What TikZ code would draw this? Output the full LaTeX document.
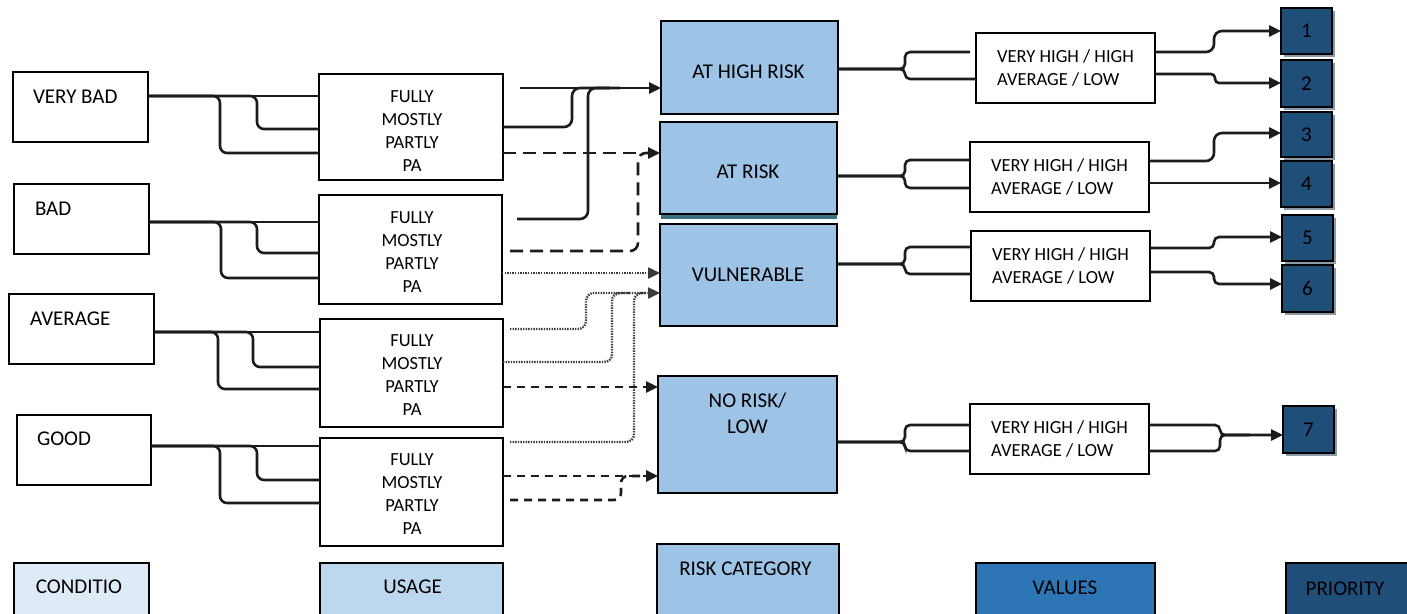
\documentclass[tikz,border=0pt]{standalone}
\usepackage{fontspec}
\setmainfont{Carlito}
\usetikzlibrary{arrows.meta,shadows}
\definecolor{condfill}{HTML}{DEEBF7}
\definecolor{usefill}{HTML}{BDD7EE}
\definecolor{riskfill}{HTML}{9DC3E6}
\definecolor{valfill}{HTML}{2E75B6}
\definecolor{prifill}{HTML}{1F4E79}
\definecolor{lnk}{HTML}{1C1C1C}
\definecolor{dotc}{HTML}{3A3A3A}
\definecolor{tealshade}{HTML}{3E6F7D}
\definecolor{pshade}{HTML}{6F8192}
\begin{document}
\begin{tikzpicture}[x=1pt,y=-1pt,
  basebox/.style={draw=black, line width=1.4pt, inner sep=0pt, outer sep=0pt},
  cbox/.style={basebox, fill=white, minimum height=70pt},
  ubox/.style={basebox, fill=white, minimum width=183pt},
  rbox/.style={basebox, fill=riskfill, minimum width=177pt},
  valbox/.style={basebox, fill=white, minimum width=179pt, minimum height=70pt, align=left, font=\fontsize{18.5}{23.3}\selectfont},
  pbox/.style={basebox, fill=prifill, minimum width=51pt, font=\fontsize{21}{25}\selectfont,
    drop shadow={shadow xshift=2.5pt, shadow yshift=-2.5pt, fill=pshade, opacity=0.8}},
  legbox/.style={basebox, minimum height=53pt},
  bigtxt/.style={font=\fontsize{21}{25}\selectfont, inner sep=0pt, outer sep=0pt},
  usetxt/.style={font=\fontsize{18.5}{23}\selectfont, inner sep=0pt, outer sep=0pt, align=center},
  linkline/.style={line width=2.6pt, draw=lnk, rounded corners=7pt},
  arrowend/.style={-{Triangle[length=12pt,width=11pt]}},
  longdsh/.style={dash pattern=on 13pt off 7pt},
  shortdsh/.style={dash pattern=on 8pt off 6pt},
  dotline/.style={draw=dotc, line width=2.4pt, dash pattern=on 1.4pt off 1.2pt},
]
\useasboundingbox (0,0) rectangle (1407,613);
\fill[white] (0,0) rectangle (1407,613);

% condition boxes
\node[cbox, minimum width=135pt] (C1) at (80.5,107) {};
\node[cbox, minimum width=135pt] (C2) at (81.5,219) {};
\node[cbox, minimum width=145pt] (C3) at (81.5,329) {};
\node[cbox, minimum width=134pt] (C4) at (84,450) {};
\node[bigtxt, anchor=base west] (C1t) at (33,103) {VERY BAD};
\node[bigtxt, anchor=base west] (C2t) at (35,215.5) {BAD};
\node[bigtxt, anchor=base west] (C3t) at (30,325) {AVERAGE};
\node[bigtxt, anchor=base west] (C4t) at (37,445.5) {GOOD};

% usage boxes
\node[ubox, minimum width=184pt, minimum height=106pt] (U1) at (411,127) {};
\node[ubox, minimum height=109pt] (U2) at (410.5,249.5) {};
\node[ubox, minimum height=108pt] (U3) at (411.5,373) {};
\node[ubox, minimum height=108pt] (U4) at (411.5,492) {};
\node[usetxt] (U1t) at (412,131.5) {FULLY\\MOSTLY\\PARTLY\\PA};
\node[usetxt] (U2t) at (412,252) {FULLY\\MOSTLY\\PARTLY\\PA};
\node[usetxt] (U3t) at (412,375) {FULLY\\MOSTLY\\PARTLY\\PA};
\node[usetxt] (U4t) at (412,494) {FULLY\\MOSTLY\\PARTLY\\PA};

% risk boxes
\fill[tealshade] (661,212) rectangle (837,219);
\node[rbox, minimum height=93pt] (R1) at (749.5,67.5) {};
\node[rbox, minimum height=92pt] (R2) at (748.5,168) {};
\node[rbox, minimum height=102pt] (R3) at (748.5,275) {};
\node[rbox, minimum width=179pt, minimum height=117pt] (R4) at (747.5,434.5) {};
\node[bigtxt] (R1t) at (748.5,71.7) {AT HIGH RISK};
\node[bigtxt] (R2t) at (748,171.7) {AT RISK};
\node[bigtxt] (R3t) at (748,275) {VULNERABLE};
\node[bigtxt, align=center, font=\fontsize{21}{26.7}\selectfont] (R4t) at (747.5,413.3) {NO RISK/\\LOW};

% value boxes
\node[valbox] (V1) at (1065.5,68) {VERY HIGH / HIGH\\AVERAGE / LOW};
\node[valbox] (V2) at (1059.5,177) {VERY HIGH / HIGH\\AVERAGE / LOW};
\node[valbox] (V3) at (1060.5,266) {VERY HIGH / HIGH\\AVERAGE / LOW};
\node[valbox] (V4) at (1059.5,439) {VERY HIGH / HIGH\\AVERAGE / LOW};

% priority boxes
\node[pbox, minimum height=46pt] (P1) at (1306.5,31) {1};
\node[pbox, minimum height=47pt] (P2) at (1306.5,83.5) {2};
\node[pbox, minimum height=45pt] (P3) at (1306.5,134.5) {3};
\node[pbox, minimum height=46pt] (P4) at (1306.5,184) {4};
\node[pbox, minimum height=46pt] (P5) at (1307.5,238) {5};
\node[pbox, minimum height=47pt] (P6) at (1307.5,288.5) {6};
\node[pbox, minimum height=47pt] (P7) at (1308.5,429.5) {7};

% legend
\node[legbox, fill=condfill, minimum width=135pt] (L1) at (81.5,589.5) {};
\node[bigtxt] (L1t) at (79,586.5) {CONDITIO};
\node[legbox, fill=usefill, minimum width=183pt] (L2) at (411.5,589.5) {};
\node[bigtxt] (L2t) at (412.5,586.5) {USAGE};
\node[basebox, fill=riskfill, minimum width=182pt, minimum height=72pt] (L3) at (748,580) {};
\node[bigtxt] (L3t) at (745.5,568.3) {RISK CATEGORY};
\node[legbox, fill=valfill, minimum width=179pt] (L4) at (1065.5,589.5) {};
\node[bigtxt] (L4t) at (1065,587.5) {VALUES};
\node[legbox, fill=prifill, minimum width=124pt] (L5) at (1348,589.5) {};
\node[bigtxt] (L5t) at (1345,588.3) {PRIORITY};

% condition -> usage
\foreach \c/\u/\ya/\yb/\yc/\xb/\xc in {C1/U1/96/129/153/257/220, C2/U2/222/253/278/257/221, C3/U3/332/367/389/253/218, C4/U4/446/480/503/257/220} {
  \draw[linkline] (\c.east |- 0,\ya) -- (\u.west |- 0,\ya);
  \draw[linkline] (\c.east |- 0,\ya) -- (\xb,\ya) |- (\u.west |- 0,\yb);
  \draw[linkline] (\c.east |- 0,\ya) -- (\xc,\ya) |- (\u.west |- 0,\yc);
}

% usage -> risk
\coordinate (sA) at (520,88);
\coordinate (sB) at (517,219);
\coordinate (dB) at (510,251);
\coordinate (tA) at (510,329);
\coordinate (tC) at (510,442);
\coordinate (dE) at (510,500);
\draw[linkline, arrowend] (sA) -- (R1.west |- sA);
\draw[linkline, rounded corners=8pt] (U1.east |- 0,127) -- (572,127) |- (610,88);
\draw[linkline, rounded corners=8pt] (sB) -- (588,219) |- (620,88);

\draw[linkline, longdsh, arrowend] (U1.east |- 0,153) -- (R2.west |- 0,153);
\draw[linkline, longdsh, rounded corners=8pt] (dB) -- (638,251) |- (652,153);

\draw[linkline, dotline, arrowend] (U2.east |- 0,273) -- (R3.west |- 0,273);
\draw[linkline, dotline, arrowend, rounded corners=8pt] (tA) -- (586,329) |- (R3.west |- 0,293);
\draw[linkline, dotline, rounded corners=8pt] (U3.east |- 0,362) -- (612,362) |- (630,293);
\draw[linkline, dotline, rounded corners=8pt] (tC) -- (634,442) |- (645,293);

\draw[linkline, shortdsh, arrowend] (U3.east |- 0,387) -- (R4.west |- 0,387);
\draw[linkline, shortdsh, arrowend] (U4.east |- 0,476) -- (R4.west |- 0,476);
\draw[linkline, shortdsh] (dE) -- (621,500) |- (640,476);

% risk -> values
\foreach \r/\v/\ym/\yt/\yb in {R1/V1/69/52/79, R2/V2/176/160/188, R3/V3/264/247/274, R4/V4/442/425/451} {
  \draw[linkline, rounded corners=5pt] (\r.east |- 0,\ym) -- (905,\ym) |- (970,\yt);
  \draw[linkline, rounded corners=5pt] (\r.east |- 0,\ym) -- (905,\ym) |- (\v.west |- 0,\yb);
}

% values -> priority
\draw[linkline, arrowend, rounded corners=8pt] (V1.east |- 0,52) -- (1214,52) |- (P1.west |- 0,31);
\draw[linkline, arrowend, rounded corners=4pt] (V1.east |- 0,74) -- (1215,74) |- (P2.west |- 0,83);
\draw[linkline, arrowend, rounded corners=8pt] (V2.east |- 0,161) -- (1214,161) |- (P3.west |- 0,133);
\draw[linkline, arrowend] (V2.east |- 0,183) -- (P4.west |- 0,183);
\draw[linkline, arrowend, rounded corners=5pt] (V3.east |- 0,248) -- (1214,248) |- (P5.west |- 0,237);
\draw[linkline, arrowend, rounded corners=5pt] (V3.east |- 0,272) -- (1214,272) |- (P6.west |- 0,284);
\draw[linkline, arrowend, rounded corners=5pt] (V4.east |- 0,425) -- (1220,425) |- (P7.west |- 0,435);
\draw[linkline, rounded corners=5pt] (V4.east |- 0,451) -- (1220,451) |- (1250,435);
\end{tikzpicture}
\end{document}
